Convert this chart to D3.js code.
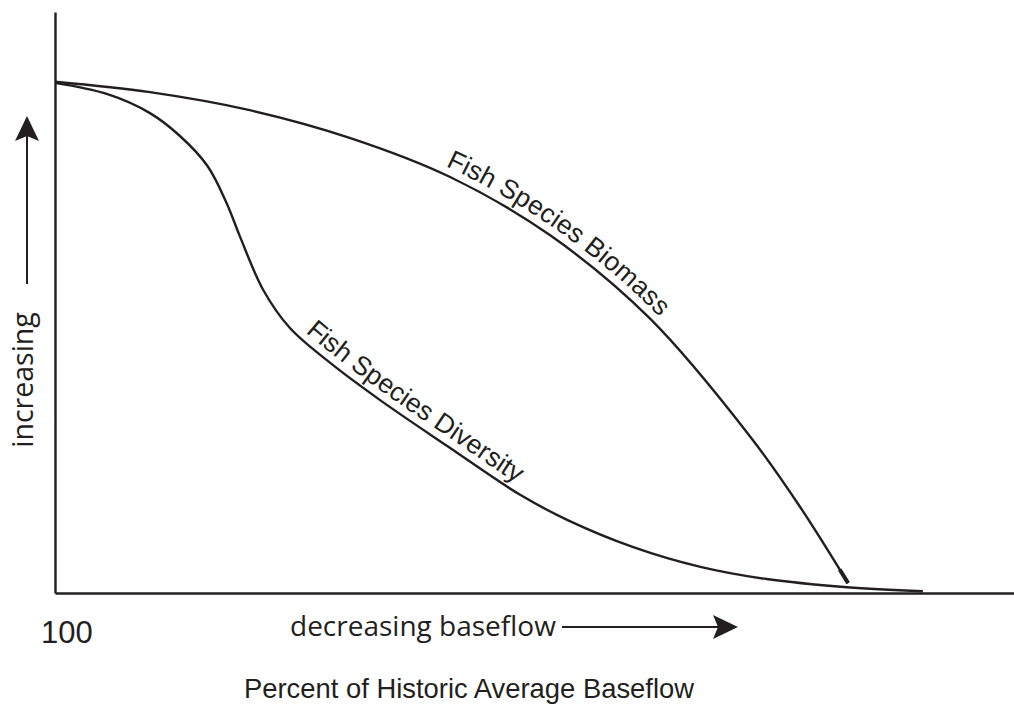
<!DOCTYPE html>
<html>
<head>
<meta charset="utf-8">
<script src="https://cdn.jsdelivr.net/npm/d3@7"></script>
<style>
  html, body { margin: 0; padding: 0; background: #ffffff; }
  svg { display: block; }
</style>
</head>
<body>
<svg id="chart" width="1014" height="704"></svg>
<script>
// ---- data (x: position along decreasing baseflow, 0..100; y: relative level, 0..100) ----
const biomassX = [0, 9.9, 20.3, 30.8, 41.2, 51.6, 62.0, 72.5, 77.7, 82.7];
const biomassY = [88.0, 86.2, 83.1, 78.3, 71.6, 61.6, 47.3, 26.9, 14.8, 1.7];
const diversityX = [0, 5.4, 9.9, 13.0, 15.9, 17.9, 19.3, 21.7, 24.5, 28.7, 33.9, 40.9, 48.5, 53.4, 60.3, 67.3, 74.2, 82.6, 90.5];
const diversityY = [87.8, 85.9, 82.6, 78.7, 73.5, 67.1, 61.3, 52.2, 45.6, 39.6, 33.2, 25.3, 16.9, 12.6, 7.9, 4.5, 2.4, 1.0, 0.3];
const seriesNames = ["Fish Species Biomass", "Fish Species Diversity"];
const xTickLabels = ["100"];
const xAxisText = "decreasing baseflow";
const yAxisText = "increasing";
const xTitle = "Percent of Historic Average Baseflow";

const ink = "#231f20";
const svg = d3.select("#chart");

const x = d3.scaleLinear().domain([0, 100]).range([55, 1014]);
const y = d3.scaleLinear().domain([0, 100]).range([593, 12]);

// axes (no ticks)
const xAxis = svg.append("g").attr("transform", `translate(0,${y(0)})`)
  .call(d3.axisBottom(x).tickValues([]).tickSizeOuter(0));
const yAxis = svg.append("g").attr("transform", `translate(${x(0)},0)`)
  .call(d3.axisLeft(y).tickValues([]).tickSizeOuter(0));
[xAxis, yAxis].forEach(g => g.select(".domain").attr("stroke", ink).attr("stroke-width", 2.4));

// curves
const line = d3.line().x(d => x(d[0])).y(d => y(d[1])).curve(d3.curveCatmullRom.alpha(0.5));
const series = [
  { id: "biomass", name: seriesNames[0], pts: biomassX.map((v, i) => [v, biomassY[i]]), labelX: 442, dy: -8 },
  { id: "diversity", name: seriesNames[1], pts: diversityX.map((v, i) => [v, diversityY[i]]), labelX: 300, dy: -8 }
];

const nodes = {};
series.forEach(s => {
  const p = svg.append("path")
    .attr("id", "curve-" + s.id)
    .attr("d", line(s.pts))
    .attr("fill", "none")
    .attr("stroke", ink)
    .attr("stroke-width", 2.4);
  const node = p.node();
  nodes[s.id] = node;
  const total = node.getTotalLength();
  let lo = 0, hi = total;
  for (let k = 0; k < 40; k++) {
    const mid = (lo + hi) / 2;
    if (node.getPointAtLength(mid).x < s.labelX) lo = mid; else hi = mid;
  }
  svg.append("text")
    .attr("font-family", "'Liberation Sans', Arial, sans-serif")
    .attr("font-size", 26.5)
    .attr("fill", ink)
    .append("textPath")
    .attr("href", "#curve-" + s.id)
    .attr("startOffset", lo)
    .append("tspan")
    .attr("dy", s.dy)
    .text(s.name);
});

// thickened tip at end of biomass curve
{
  const node = nodes.biomass;
  const L = node.getTotalLength();
  const a = node.getPointAtLength(L - 16), b = node.getPointAtLength(L);
  svg.append("line")
    .attr("x1", a.x).attr("y1", a.y).attr("x2", b.x).attr("y2", b.y)
    .attr("stroke", ink).attr("stroke-width", 4);
}

// arrowhead helper
function arrowHead(tx, ty, angle) {
  svg.append("path")
    .attr("d", "M0,0 L-25,-12 L-20,0 L-25,12 Z")
    .attr("fill", ink)
    .attr("transform", `translate(${tx},${ty}) rotate(${angle})`);
}

// x direction label & arrow
svg.append("text")
  .attr("x", 290).attr("y", 636)
  .attr("font-family", "'Open Sans', 'Noto Sans', sans-serif")
  .attr("font-size", 28)
  .attr("fill", ink)
  .text(xAxisText);
svg.append("line").attr("x1", 562).attr("x2", 720).attr("y1", 627).attr("y2", 627)
  .attr("stroke", ink).attr("stroke-width", 2);
arrowHead(738, 627, 0);

// y direction label & arrow
svg.append("text")
  .attr("transform", "translate(33,380) rotate(-90)")
  .attr("text-anchor", "middle")
  .attr("font-family", "'Open Sans', 'Noto Sans', sans-serif")
  .attr("font-size", 28.5)
  .attr("fill", ink)
  .text(yAxisText);
svg.append("line").attr("x1", 27).attr("x2", 27).attr("y1", 284).attr("y2", 135)
  .attr("stroke", ink).attr("stroke-width", 2);
arrowHead(27, 116, -90);

// tick label and title
svg.append("text")
  .attr("x", 41).attr("y", 643)
  .attr("font-family", "'Liberation Sans', Arial, sans-serif")
  .attr("font-size", 31)
  .attr("fill", ink)
  .text(xTickLabels[0]);
svg.append("text")
  .attr("x", 469).attr("y", 698)
  .attr("text-anchor", "middle")
  .attr("font-family", "'Liberation Sans', Arial, sans-serif")
  .attr("font-size", 27.4)
  .attr("fill", ink)
  .text(xTitle);
</script>
</body>
</html>
